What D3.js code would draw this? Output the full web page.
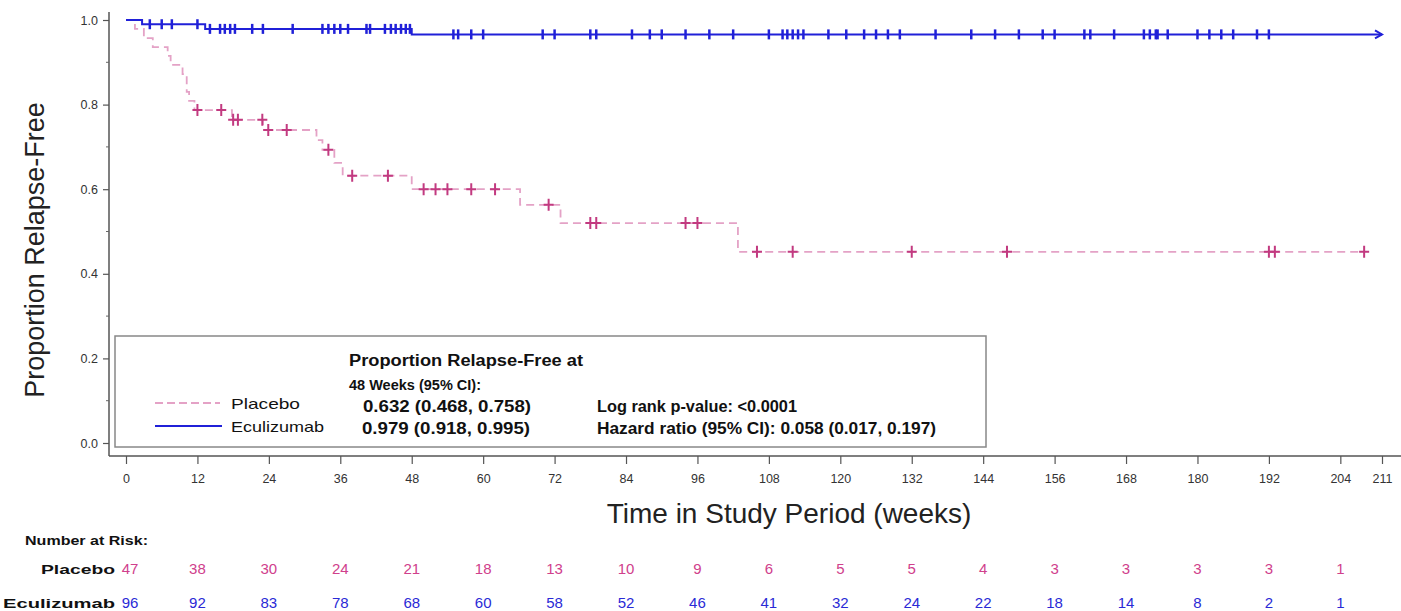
<!DOCTYPE html>
<html>
<head>
<meta charset="utf-8">
<script src="https://cdn.jsdelivr.net/npm/d3@7"></script>
<style>
  body { margin: 0; background: #fff; }
  svg { display: block; font-family: "Liberation Sans", Arial, sans-serif; }
</style>
</head>
<body>
<div id="chart"></div>
<script>
// ---- data ----
const xTicks = [0, 12, 24, 36, 48, 60, 72, 84, 96, 108, 120, 132, 144, 156, 168, 180, 192, 204, 211];
const yTicks = [0, 0.2, 0.4, 0.6, 0.8, 1.0];
const yMinor = [0.1, 0.3, 0.5, 0.7, 0.9];

// step points [week, proportion]
const placeboSteps = [
  [0, 1], [1.5, 0.979], [3, 0.957], [4.5, 0.936], [7, 0.915], [7.5, 0.894],
  [9.5, 0.872], [10.2, 0.830], [10.6, 0.809], [11.5, 0.787], [17.8, 0.764],
  [23, 0.740], [32, 0.716], [33, 0.693], [35, 0.662], [36.4, 0.632],
  [48, 0.600], [66.2, 0.563], [73, 0.520], [102.8, 0.452]
];
const placeboEnd = 208;
const placeboCensor = [12, 16, 18, 18.8, 22.9, 23.9, 27, 34, 38, 44, 50, 52, 54, 58, 62,
  71, 78, 79, 94, 96, 106, 112, 132, 148, 192, 193, 208];

const ecuSteps = [[0, 1], [2.7, 0.990], [13.3, 0.979], [48, 0.966]];
const ecuEnd = 211;
const ecuCensor = [4, 6, 7.7, 12, 14.1, 15.8, 16.6, 17.5, 18.3, 21.2, 23, 28, 33, 34, 35, 36,
  37.3, 40.4, 41, 43.5, 44.5, 45.3, 46.2, 47, 47.7, 55, 55.8, 58, 60, 70, 72, 78, 79, 85, 88,
  90, 94, 98, 102, 108, 110.3, 111.1, 112, 112.9, 113.8, 118, 121, 124, 126, 128, 130, 136,
  142, 146, 150, 154, 156, 161, 162, 166, 171, 172, 173, 173.3, 175, 180, 182, 184, 186, 190, 192];

const riskTimes = [0, 12, 24, 36, 48, 60, 72, 84, 96, 108, 120, 132, 144, 156, 168, 180, 192, 204];
const riskPlacebo = [47, 38, 30, 24, 21, 18, 13, 10, 9, 6, 5, 5, 4, 3, 3, 3, 3, 1];
const riskEcu = [96, 92, 83, 78, 68, 60, 58, 52, 46, 41, 32, 24, 22, 18, 14, 8, 2, 1];

const pinkLine = "#e4a2c6", pinkMark = "#c23a80", pinkText = "#d0408c";
const blue = "#2020d8", blueText = "#2a2ad6";

const W = 1401, H = 611;
const svg = d3.select("#chart").append("svg")
  .attr("width", W).attr("height", H).attr("viewBox", `0 0 ${W} ${H}`);

const x = d3.scaleLinear().domain([0, 211]).range([126, 1382]);
const y = d3.scaleLinear().domain([0, 1]).range([443, 20]);
const axisY = 456, axisX = 109;

// ---- axes ----
svg.append("line").attr("x1", axisX).attr("x2", axisX).attr("y1", 12).attr("y2", axisY)
  .attr("stroke", "#555").attr("stroke-width", 1.5);
svg.append("line").attr("x1", axisX).attr("x2", W).attr("y1", axisY).attr("y2", axisY)
  .attr("stroke", "#555").attr("stroke-width", 1.5);

const yAxis = svg.append("g").attr("transform", `translate(${axisX},0)`)
  .call(d3.axisLeft(y).tickValues(yTicks).tickFormat(d3.format(".1f")).tickSize(6).tickPadding(5));
yAxis.select(".domain").remove();
yAxis.selectAll(".tick line").attr("stroke", "#555").attr("stroke-width", 1.2);
yAxis.selectAll(".tick text").attr("font-size", 12.5).attr("fill", "#333")
  .attr("font-family", "Liberation Sans, Arial, sans-serif");
svg.append("g").selectAll("line").data(yMinor).join("line")
  .attr("x1", axisX - 3).attr("x2", axisX).attr("y1", d => y(d)).attr("y2", d => y(d))
  .attr("stroke", "#666").attr("stroke-width", 1);

const xAxis = svg.append("g").attr("transform", `translate(0,${axisY})`)
  .call(d3.axisBottom(x).tickValues(xTicks).tickSize(8).tickPadding(10));
xAxis.select(".domain").remove();
xAxis.selectAll(".tick line").attr("stroke", "#555").attr("stroke-width", 1.2);
xAxis.selectAll(".tick text").attr("font-size", 12.5).attr("fill", "#333")
  .attr("font-family", "Liberation Sans, Arial, sans-serif");

svg.append("text").attr("x", 789).attr("y", 523).attr("text-anchor", "middle")
  .attr("font-size", 28).attr("fill", "#222").text("Time in Study Period (weeks)");
svg.append("text").attr("transform", "translate(44,250) rotate(-90)").attr("text-anchor", "middle")
  .attr("font-size", 27).attr("fill", "#222").text("Proportion Relapse-Free");

// ---- curves ----
const step = d3.line().x(d => x(d[0])).y(d => y(d[1])).curve(d3.curveStepAfter);
function survAt(steps, t) {
  let s = steps[0][1];
  for (const p of steps) if (p[0] <= t) s = p[1];
  return s;
}
const placeboPts = placeboSteps.concat([[placeboEnd, placeboSteps[placeboSteps.length - 1][1]]]);
const ecuPts = ecuSteps.concat([[ecuEnd, ecuSteps[ecuSteps.length - 1][1]]]);

svg.append("path").attr("d", step(placeboPts)).attr("fill", "none")
  .attr("stroke", pinkLine).attr("stroke-width", 1.8).attr("stroke-dasharray", "8,5");
svg.append("path").attr("d", step(ecuPts)).attr("fill", "none")
  .attr("stroke", blue).attr("stroke-width", 2);

// censor marks
svg.append("g").selectAll("path").data(ecuCensor).join("path")
  .attr("d", t => `M${x(t)},${y(survAt(ecuSteps, t)) - 5}v10`)
  .attr("stroke", blue).attr("stroke-width", 2.5);
svg.append("g").selectAll("path").data(placeboCensor).join("path")
  .attr("d", t => {
    const cx = x(t), cy = y(survAt(placeboSteps, t));
    return `M${cx},${cy - 6}v12M${cx - 5},${cy}h10`;
  })
  .attr("stroke", pinkMark).attr("stroke-width", 2);

// arrow at end of eculizumab line
const ex = x(ecuEnd), ey = y(ecuSteps[ecuSteps.length - 1][1]);
svg.append("path").attr("d", `M${ex - 7},${ey - 4}L${ex},${ey}L${ex - 7},${ey + 4}`)
  .attr("fill", "none").attr("stroke", blue).attr("stroke-width", 2);

// ---- legend box ----
const lg = svg.append("g");
lg.append("rect").attr("x", 115).attr("y", 336).attr("width", 871).attr("height", 111)
  .attr("fill", "#fff").attr("stroke", "#888").attr("stroke-width", 1.5);
lg.append("line").attr("x1", 155).attr("x2", 220).attr("y1", 403).attr("y2", 403)
  .attr("stroke", pinkLine).attr("stroke-width", 1.8).attr("stroke-dasharray", "8,4");
lg.append("line").attr("x1", 155).attr("x2", 222).attr("y1", 426).attr("y2", 426)
  .attr("stroke", blue).attr("stroke-width", 1.8);

const legendTexts = [
  { t: "Placebo", x: 231, y: 409, w: 69, b: false, fs: 15 },
  { t: "Eculizumab", x: 231, y: 432, w: 93, b: false, fs: 15 },
  { t: "Proportion Relapse-Free at", x: 349, y: 366, w: 234, b: true, fs: 16 },
  { t: "48 Weeks (95% CI):", x: 349, y: 390, w: 132, b: true, fs: 15 },
  { t: "0.632 (0.468, 0.758)", x: 363, y: 412, w: 168, b: true, fs: 16 },
  { t: "0.979 (0.918, 0.995)", x: 362, y: 434, w: 168, b: true, fs: 16 },
  { t: "Log rank p-value: <0.0001", x: 597, y: 412, w: 200, b: true, fs: 16 },
  { t: "Hazard ratio (95% CI): 0.058 (0.017, 0.197)", x: 597, y: 434, w: 339, b: true, fs: 16 }
];
lg.selectAll("text.lt").data(legendTexts).join("text").attr("class", "lt")
  .attr("x", d => d.x).attr("y", d => d.y).attr("font-size", d => d.fs)
  .attr("font-weight", d => d.b ? "bold" : "normal").attr("fill", "#111")
  .attr("textLength", d => d.w).attr("lengthAdjust", "spacingAndGlyphs")
  .text(d => d.t);

// ---- number at risk ----
const rk = svg.append("g");
const rowLabels = [
  { t: "Number at Risk:", x: 25, y: 545, w: 123, anchor: "start" },
  { t: "Placebo", x: 115, y: 574, w: 74, anchor: "end" },
  { t: "Eculizumab", x: 115, y: 608, w: 112, anchor: "end" }
];
rk.selectAll("text.rl").data(rowLabels).join("text").attr("class", "rl")
  .attr("x", d => d.anchor === "end" ? d.x - d.w : d.x).attr("y", d => d.y)
  .attr("font-size", 13).attr("font-weight", "bold").attr("fill", "#111")
  .attr("textLength", d => d.w).attr("lengthAdjust", "spacingAndGlyphs")
  .text(d => d.t);

rk.selectAll("text.rp").data(riskPlacebo).join("text").attr("class", "rp")
  .attr("x", (d, i) => x(riskTimes[i]) + (i === 0 ? 4 : 0)).attr("y", 574)
  .attr("text-anchor", "middle").attr("font-size", 15).attr("fill", pinkText).text(d => d);
rk.selectAll("text.re").data(riskEcu).join("text").attr("class", "re")
  .attr("x", (d, i) => x(riskTimes[i]) + (i === 0 ? 4 : 0)).attr("y", 608)
  .attr("text-anchor", "middle").attr("font-size", 15).attr("fill", blueText).text(d => d);
</script>
</body>
</html>
